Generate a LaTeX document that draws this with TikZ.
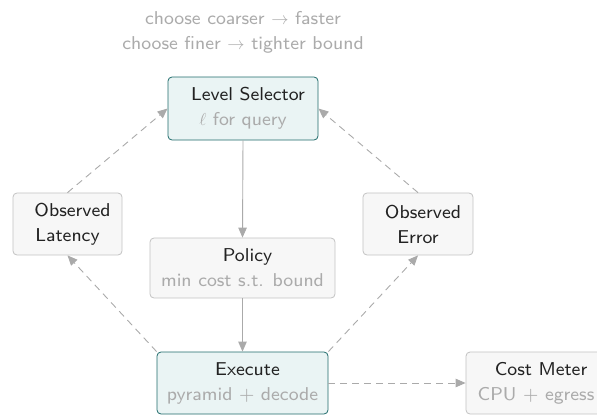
\documentclass[tikz,border=0pt]{standalone}
\usepackage{fontspec}
\setsansfont{lmsans8-regular}[Extension=.otf]
\renewcommand{\familydefault}{\sfdefault}
\usetikzlibrary{arrows.meta}
\definecolor{tealfill}{HTML}{EAF4F4}
\definecolor{tealedge}{HTML}{1F6B6B}
\definecolor{greyfill}{HTML}{F7F7F7}
\definecolor{greyedge}{HTML}{C2C2C2}
\definecolor{subtext}{HTML}{ABABAB}
\definecolor{maintext}{HTML}{222222}
\definecolor{linkcol}{HTML}{AAAAAA}
% first line of each box sits a little to the right
\newcommand{\headline}[1]{\hspace*{10pt}#1}
\tikzset{
  box/.style={draw, rounded corners=4pt, line width=0.8pt, align=center,
    inner sep=0pt, font=\fontsize{18.6}{25}\selectfont, text=maintext},
  hot/.style={box, fill=tealfill, draw=tealedge},
  cold/.style={box, fill=greyfill, draw=greyedge},
  flow/.style={draw=linkcol, line width=0.9pt, -{Triangle[length=10pt,width=8.5pt]}},
  loop/.style={flow, dash pattern=on 7pt off 5pt},
  note/.style={text=subtext, align=center, font=\fontsize{18.6}{25}\selectfont}
}
\begin{document}
\begin{tikzpicture}[x=1pt,y=-1pt]
\useasboundingbox (0,0) rectangle (597,415);
\node[note] (hint) at (243,32.5) {choose coarser $\rightarrow$ faster\\choose finer $\rightarrow$ tighter bound};
\node[hot, minimum width=150pt, minimum height=63pt] (sel) at (243,108.5)
  {\headline{Level Selector}\\\textcolor{subtext}{$\ell$ for query}};
\node[cold, minimum width=109pt, minimum height=62pt] (lat) at (67.5,224)
  {\headline{Observed}\\Latency};
\node[cold, minimum width=110pt, minimum height=62pt] (err) at (418,224)
  {\headline{Observed}\\Error};
\node[cold, minimum width=185pt, minimum height=60pt] (pol) at (242.5,268)
  {\headline{Policy}\\\textcolor{subtext}{min cost s.t. bound}};
\node[hot, minimum width=171pt, minimum height=62pt] (exe) at (242.5,383)
  {\headline{Execute}\\\textcolor{subtext}{pyramid + decode}};
\node[cold, minimum width=140pt, minimum height=62pt] (cost) at (536,383)
  {\headline{Cost Meter}\\\textcolor{subtext}{CPU + egress}};
\draw[flow] (sel.south) -- (pol.north);
\draw[flow] (pol.south) -- (exe.north);
\draw[loop] (exe.east) -- (cost.west);
\draw[loop] (exe.north west) -- (lat.south);
\draw[loop] (lat.north) -- (sel.west);
\draw[loop] (exe.north east) -- (err.south);
\draw[loop] (err.north) -- (sel.east);
\end{tikzpicture}
\end{document}
